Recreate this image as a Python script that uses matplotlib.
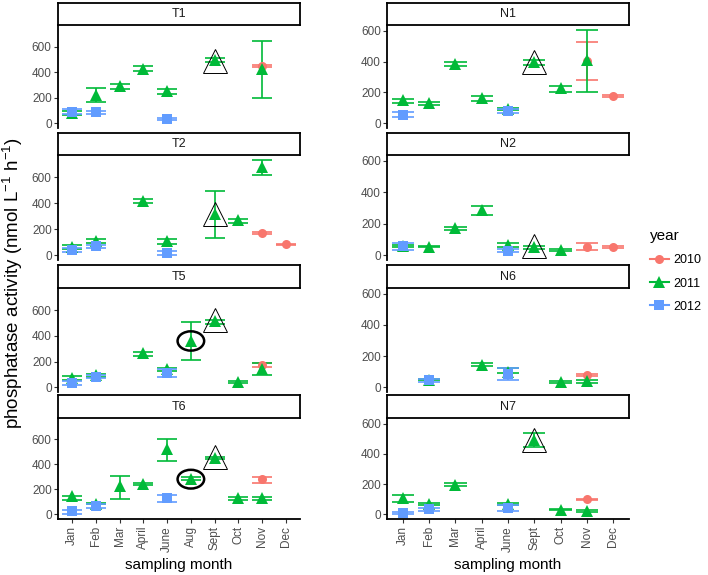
import matplotlib
matplotlib.use("Agg")
import matplotlib.pyplot as plt
from matplotlib.patches import Ellipse
from matplotlib.lines import Line2D

plt.rcParams['font.family'] = ['Liberation Sans', 'DejaVu Sans']
plt.rcParams['mathtext.default'] = 'regular'

# ---------------- data ----------------
months_left = ["Jan", "Feb", "Mar", "April", "June", "Aug", "Sept", "Oct", "Nov", "Dec"]
months_right = ["Jan", "Feb", "Mar", "April", "June", "Sept", "Oct", "Nov", "Dec"]
years = [2010, 2011, 2012]
year_colors = ["#F8766D", "#00BA38", "#619CFF"]
year_markers = ["o", "^", "s"]
yticks = [0, 200, 400, 600]

T1_month = ["Jan", "Jan", "Feb", "Feb", "Mar", "April", "June", "June", "Sept", "Nov", "Nov"]
T1_year = [2011, 2012, 2011, 2012, 2011, 2011, 2011, 2012, 2011, 2010, 2011]
T1_mean = [80, 88, 225, 85, 290, 430, 250, 35, 495, 450, 425]
T1_lo = [65, 72, 170, 75, 272, 410, 228, 22, 480, 442, 198]
T1_hi = [93, 110, 275, 95, 305, 448, 268, 45, 510, 458, 648]

T2_month = ["Jan", "Jan", "Feb", "Feb", "April", "June", "June", "Sept", "Oct", "Nov", "Nov", "Dec"]
T2_year = [2011, 2012, 2011, 2012, 2011, 2011, 2012, 2011, 2011, 2011, 2010, 2010]
T2_mean = [65, 40, 110, 70, 415, 110, 20, 315, 272, 680, 170, 85]
T2_lo = [45, 25, 95, 55, 400, 90, 5, 130, 250, 620, 162, 80]
T2_hi = [80, 55, 125, 80, 430, 125, 32, 495, 282, 735, 178, 90]

T5_month = ["Jan", "Jan", "Feb", "Feb", "April", "June", "June", "Aug", "Sept", "Oct", "Nov", "Nov"]
T5_year = [2011, 2012, 2011, 2012, 2011, 2011, 2012, 2011, 2011, 2011, 2010, 2011]
T5_mean = [75, 35, 95, 80, 265, 145, 110, 360, 515, 40, 170, 145]
T5_lo = [55, 15, 80, 70, 240, 130, 80, 215, 490, 30, 160, 95]
T5_hi = [85, 45, 100, 95, 278, 150, 145, 505, 525, 45, 185, 185]

T6_month = ["Jan", "Jan", "Feb", "Feb", "Mar", "April", "June", "June", "Aug", "Sept", "Oct", "Nov", "Nov"]
T6_year = [2011, 2012, 2011, 2012, 2011, 2011, 2011, 2012, 2011, 2011, 2011, 2010, 2011]
T6_mean = [145, 25, 85, 70, 225, 245, 520, 130, 285, 455, 130, 280, 130]
T6_lo = [115, 5, 80, 55, 120, 235, 430, 100, 275, 445, 115, 255, 115]
T6_hi = [150, 35, 90, 85, 310, 255, 600, 155, 300, 460, 140, 300, 140]

N1_month = ["Jan", "Jan", "Feb", "Mar", "April", "June", "June", "Sept", "Oct", "Nov", "Nov", "Dec"]
N1_year = [2011, 2012, 2011, 2011, 2011, 2011, 2012, 2011, 2011, 2010, 2011, 2010]
N1_mean = [150, 55, 130, 385, 165, 95, 80, 395, 230, 405, 410, 178]
N1_lo = [130, 40, 120, 370, 147, 85, 70, 375, 200, 278, 205, 172]
N1_hi = [160, 75, 140, 398, 175, 100, 95, 410, 245, 530, 605, 184]

N2_month = ["Jan", "Jan", "Feb", "Mar", "April", "June", "June", "Sept", "Oct", "Nov", "Dec"]
N2_year = [2011, 2012, 2011, 2011, 2011, 2011, 2012, 2011, 2011, 2010, 2010]
N2_mean = [60, 60, 55, 175, 285, 65, 30, 55, 35, 55, 52]
N2_lo = [50, 35, 50, 160, 255, 50, 20, 40, 28, 33, 48]
N2_hi = [65, 75, 60, 180, 315, 75, 40, 62, 40, 77, 56]

N6_month = ["Feb", "Feb", "April", "June", "June", "Oct", "Nov", "Nov"]
N6_year = [2011, 2012, 2011, 2011, 2012, 2011, 2010, 2011]
N6_mean = [50, 45, 145, 100, 85, 35, 80, 38]
N6_lo = [45, 35, 135, 95, 45, 28, 75, 28]
N6_hi = [55, 55, 155, 127, 125, 40, 85, 45]

N7_month = ["Jan", "Jan", "Feb", "Feb", "Mar", "June", "June", "Sept", "Oct", "Nov", "Nov"]
N7_year = [2011, 2012, 2011, 2012, 2011, 2011, 2012, 2011, 2011, 2010, 2011]
N7_mean = [110, 12, 70, 35, 195, 70, 40, 490, 30, 100, 25]
N7_lo = [80, 2, 60, 25, 185, 60, 25, 445, 28, 95, 15]
N7_hi = [130, 18, 75, 42, 205, 75, 60, 535, 35, 105, 30]

# highlighted observations
hollow_sites = ["T1", "T2", "T5", "T6", "N1", "N2", "N7"]
hollow_month = ["Sept", "Sept", "Sept", "Sept", "Sept", "Sept", "Sept"]
hollow_value = [490, 320, 520, 462, 400, 62, 495]
circle_sites = ["T5", "T6"]
circle_month = ["Aug", "Aug"]
circle_value = [360, 282]

sites = {
    "T1": (T1_month, T1_year, T1_mean, T1_lo, T1_hi),
    "T2": (T2_month, T2_year, T2_mean, T2_lo, T2_hi),
    "T5": (T5_month, T5_year, T5_mean, T5_lo, T5_hi),
    "T6": (T6_month, T6_year, T6_mean, T6_lo, T6_hi),
    "N1": (N1_month, N1_year, N1_mean, N1_lo, N1_hi),
    "N2": (N2_month, N2_year, N2_mean, N2_lo, N2_hi),
    "N6": (N6_month, N6_year, N6_mean, N6_lo, N6_hi),
    "N7": (N7_month, N7_year, N7_mean, N7_lo, N7_hi),
}
left_sites = ["T1", "T2", "T5", "T6"]
right_sites = ["N1", "N2", "N6", "N7"]

# ---------------- layout ----------------
W, H = 708, 575
fig = plt.figure(figsize=(W / 100, H / 100), dpi=100)

col_x = [(58, 300), (387, 629)]
rows = [(3, 25, 128), (133, 155, 260), (265, 288, 392), (395, 418, 519)]
col_ylim = [(-37, 772), (-30, 637)]
col_months = [months_left, months_right]
tick_color = "#4D4D4D"
half_w = 0.425

def frect(x0, y0, x1, y1):
    return [x0 / W, 1 - y1 / H, (x1 - x0) / W, (y1 - y0) / H]

for ci, col_sites in enumerate([left_sites, right_sites]):
    mlist = col_months[ci]
    x0, x1 = col_x[ci]
    for ri, site in enumerate(col_sites):
        st, py0, py1 = rows[ri]
        # strip
        sax = fig.add_axes(frect(x0, st, x1, py0))
        sax.set_xticks([]); sax.set_yticks([])
        for sp in sax.spines.values():
            sp.set_linewidth(1.3); sp.set_color("black")
        sax.text(0.5, 0.5, site, ha="center", va="center", fontsize=9,
                 color="#1A1A1A", transform=sax.transAxes)
        # panel
        ax = fig.add_axes(frect(x0, py0, x1, py1))
        months, yrs, mean, lo, hi = sites[site]
        xs = [mlist.index(m) for m in months]
        for yi, yr in enumerate(years):
            idx = [i for i in range(len(yrs)) if yrs[i] == yr]
            c = year_colors[yi]
            for i in idx:
                ax.vlines(xs[i], lo[i], hi[i], color=c, lw=1.2, zorder=2)
                ax.hlines([lo[i], hi[i]], xs[i] - half_w, xs[i] + half_w,
                          color=c, lw=1.2, zorder=2)
        for yi, yr in enumerate(years):
            idx = [i for i in range(len(yrs)) if yrs[i] == yr]
            ms = 8.5 if year_markers[yi] == "^" else 6.5
            ax.plot([xs[i] for i in idx], [mean[i] for i in idx],
                    ls="none", marker=year_markers[yi], color=year_colors[yi],
                    ms=ms, mew=0, zorder=3)
        for s, m, v in zip(hollow_sites, hollow_month, hollow_value):
            if s == site:
                ax.plot([mlist.index(m)], [v], ls="none", marker="^", ms=17,
                        mfc="none", mec="black", mew=0.7, zorder=4)
        for s, m, v in zip(circle_sites, circle_month, circle_value):
            if s == site:
                ax.add_patch(Ellipse((mlist.index(m), v), 1.12, 150, fill=False,
                                     ec="black", lw=1.8, zorder=5))
        ax.set_xlim(-0.6, len(mlist) - 0.4)
        ax.set_ylim(*col_ylim[ci])
        ax.set_yticks(yticks)
        ax.tick_params(axis="y", labelsize=8.5, labelcolor=tick_color,
                       color="#333333", length=3, width=0.8, pad=1.5)
        for sp in ["top", "right"]:
            ax.spines[sp].set_visible(False)
        ax.spines["left"].set_linewidth(1.3)
        if ri == 3:
            ax.set_xticks(range(len(mlist)))
            ax.set_xticklabels(mlist, rotation=90)
            ax.tick_params(axis="x", labelsize=8.5, labelcolor=tick_color,
                           color="#333333", length=3, width=0.8, pad=2)
            ax.spines["bottom"].set_linewidth(1.3)
        else:
            ax.set_xticks([])
            ax.spines["bottom"].set_visible(False)
        ax.set_facecolor("none")
    fig.text((x0 + x1) / 2 / W, 1 - 565 / H, "sampling month", ha="center",
             va="center", fontsize=11)

fig.text(13 / W, 1 - 283 / H, r"phosphatase activity (nmol L$^{-1}$ h$^{-1}$)",
         rotation=90, ha="center", va="center", fontsize=13.5)

handles = [Line2D([], [], color=c, marker=m, ms=(8.5 if m == "^" else 6.5), mew=0, lw=1.5)
           for c, m in zip(year_colors, year_markers)]
leg = fig.legend(handles, [str(y) for y in years], title="year", loc="upper left",
                 bbox_to_anchor=(650 / W, 1 - 229 / H), frameon=False, fontsize=9,
                 title_fontsize=11, handlelength=1.5, labelspacing=0.9,
                 handletextpad=0.35, borderpad=0, borderaxespad=0)
leg._legend_box.align = "left"

fig.savefig("out.png", dpi=100)
